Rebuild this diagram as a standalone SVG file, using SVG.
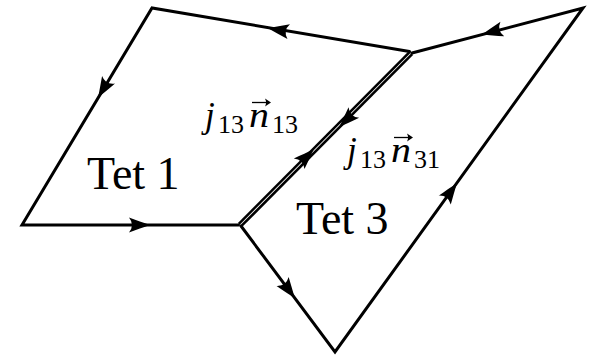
<svg xmlns="http://www.w3.org/2000/svg" width="594" height="356" viewBox="0 0 594 356">
<style>
.edge{fill:none;stroke:#000;stroke-width:3;stroke-linejoin:miter;stroke-linecap:round}
.shared{fill:none;stroke:#000;stroke-width:2.6}
.ar{fill:none;stroke:none;marker-end:url(#ah)}
.lbl{font-family:"Liberation Serif","Times New Roman",serif;font-size:46px;fill:#000}
.mi{font-family:"Liberation Serif","Times New Roman",serif;font-style:italic;font-size:35px;fill:#000}
.sub{font-family:"Liberation Serif","Times New Roman",serif;font-size:26px;fill:#000}
.vl{fill:none;stroke:#000;stroke-width:1.3}
.vh{fill:#000;stroke:none}
</style>
<defs>
<marker id="ah" markerUnits="userSpaceOnUse" markerWidth="30" markerHeight="20" viewBox="-25 -10 30 20" refX="0" refY="0" orient="auto" overflow="visible">
<path d="M0,0 C-6,-2 -14,-5 -21,-7.5 Q-15,0 -21,7.5 C-14,5 -6,2 0,0 Z" fill="#000"/>
</marker>
</defs>
<rect width="594" height="356" fill="#fff"/>
<g id="tet1">
<path class="edge" d="M409.5,51.5 L152,8 L22,225 L238.5,225"/>
<line class="shared" x1="238.8" y1="223.8" x2="409.8" y2="51.8"/>
<path class="ar" d="M278,29.9 L268,28.2"/>
<path class="ar" d="M103,89.4 L98,98"/>
<path class="ar" d="M140,225 L150,225"/>
<path class="ar" d="M307,155.9 L314,148.9"/>
<text class="lbl" x="87" y="189">Tet 1</text>
<g id="label13">
<text class="mi" x="205" y="127">j</text>
<text class="sub" x="218" y="133">13</text>
<text class="mi" x="249" y="127" textLength="20" lengthAdjust="spacingAndGlyphs">n</text>
<path class="vl" d="M252,102.5 H268"/>
<path class="vh" d="M271,102.5 L265,98.5 Q267,102.5 265,106.5 Z"/>
<text class="sub" x="272" y="133">13</text>
</g>
</g>
<g id="tet3">
<path class="edge" d="M412,53 L583,8 L335,352 L241,226"/>
<line class="shared" x1="241.2" y1="226.2" x2="412.2" y2="54.2"/>
<path class="ar" d="M346,120.4 L339,127.4"/>
<path class="ar" d="M492,31.8 L482,34.4"/>
<path class="ar" d="M451,191.3 L457,183"/>
<path class="ar" d="M289,290.2 L295,298.4"/>
<text class="lbl" x="296" y="234">Tet 3</text>
<g id="label31" transform="translate(142,35)">
<text class="mi" x="205" y="127">j</text>
<text class="sub" x="218" y="133">13</text>
<text class="mi" x="249" y="127" textLength="20" lengthAdjust="spacingAndGlyphs">n</text>
<path class="vl" d="M252,102.5 H268"/>
<path class="vh" d="M271,102.5 L265,98.5 Q267,102.5 265,106.5 Z"/>
<text class="sub" x="272" y="133">31</text>
</g>
</g>
</svg>
